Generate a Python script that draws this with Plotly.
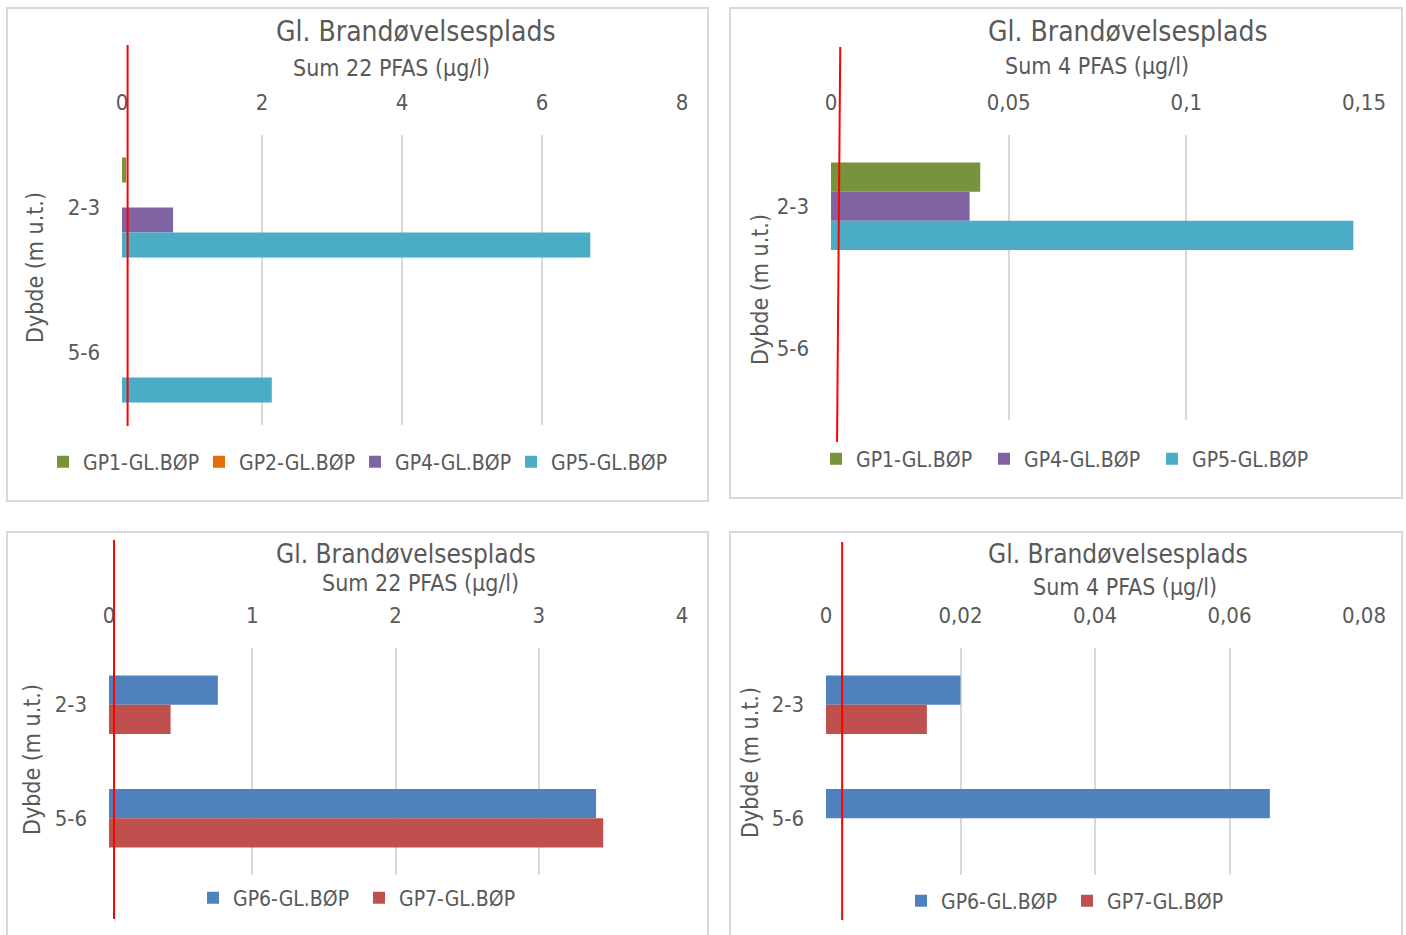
import plotly.graph_objects as go

# ---- data -------------------------------------------------------------
depth = ["2-3", "5-6"]

# Sum 22 PFAS (µg/l), boreholes GP1-GP5
gp1_sum22 = [0.06, None]
gp2_sum22 = [None, None]
gp4_sum22 = [0.73, None]
gp5_sum22 = [6.69, 2.14]

# Sum 4 PFAS (µg/l), boreholes GP1-GP5
gp1_sum4 = [0.042, None]
gp4_sum4 = [0.039, None]
gp5_sum4 = [0.147, None]

# Sum 22 PFAS (µg/l), boreholes GP6-GP7
gp6_sum22 = [0.76, 3.40]
gp7_sum22 = [0.43, 3.45]

# Sum 4 PFAS (µg/l), boreholes GP6-GP7
gp6_sum4 = [0.020, 0.066]
gp7_sum4 = [0.015, None]

# red reference line (x at top, x at bottom) per panel
ref_line_1 = [0.08, 0.08]
ref_line_2 = [0.0026, 0.0017]
ref_line_3 = [0.035, 0.035]
ref_line_4 = [0.0024, 0.0024]

title = "Gl. Brandøvelsesplads"
sub22 = "Sum 22 PFAS (µg/l)"
sub4 = "Sum 4 PFAS (µg/l)"
ytitle = "Dybde (m u.t.)"

# ---- style ------------------------------------------------------------
W, H = 1406, 935
FONT = "Liberation Sans Narrow, DejaVu Sans Condensed, Roboto, sans-serif"
TXT = "#595959"
GRID = "#d9d9d9"
C_GP1 = "#77933c"
C_GP2 = "#e46c0a"
C_GP4 = "#8064a2"
C_GP5 = "#4bacc6"
C_GP6 = "#4f81bd"
C_GP7 = "#c0504d"


def px(x):
    return x / W


def py(y):
    return 1 - y / H


fig = go.Figure()

panels = [
    dict(ax="", leg="legend", xd=(122, 682), yd=(135, 425), rng=[0, 8], dt=2,
         band=145, bar=25,
         series=[("GP1-GL.BØP", gp1_sum22, C_GP1), ("GP2-GL.BØP", gp2_sum22, C_GP2),
                 ("GP4-GL.BØP", gp4_sum22, C_GP4), ("GP5-GL.BØP", gp5_sum22, C_GP5)],
         ref=ref_line_1, ref_y=(45, 426),
         title=(title, 416, 32, 28), sub=(sub22, 391, 68, 23), ylab=(35, 268),
         leg_pos=(43, 462), entry=111),
    dict(ax="2", leg="legend2", xd=(831, 1364), yd=(135, 420), rng=[0, 0.15], dt=0.05,
         band=144, bar=29.5,
         series=[("GP1-GL.BØP", gp1_sum4, C_GP1), ("GP4-GL.BØP", gp4_sum4, C_GP4),
                 ("GP5-GL.BØP", gp5_sum4, C_GP5)],
         ref=ref_line_2, ref_y=(47, 442),
         title=(title, 1128, 32, 28), sub=(sub4, 1097, 66, 23), ylab=(760, 290),
         leg_pos=(816, 459), entry=123),
    dict(ax="3", leg="legend3", xd=(109, 682), yd=(648, 875), rng=[0, 4], dt=1,
         band=114, bar=29.5,
         series=[("GP6-GL.BØP", gp6_sum22, C_GP6), ("GP7-GL.BØP", gp7_sum22, C_GP7)],
         ref=ref_line_3, ref_y=(540, 919),
         title=(title, 406, 554, 26), sub=(sub22, 420, 583, 23), ylab=(32, 760),
         leg_pos=(193, 898), entry=121),
    dict(ax="4", leg="legend4", xd=(826, 1364), yd=(648, 875), rng=[0, 0.08], dt=0.02,
         band=114, bar=29.5,
         series=[("GP6-GL.BØP", gp6_sum4, C_GP6), ("GP7-GL.BØP", gp7_sum4, C_GP7)],
         ref=ref_line_4, ref_y=(542, 920),
         title=(title, 1118, 554, 26), sub=(sub4, 1125, 587, 23), ylab=(750, 762),
         leg_pos=(901, 901), entry=121),
]

annotations = []
shapes = []

for p in panels:
    xa = "x" + p["ax"]
    ya = "y" + p["ax"]
    n = len(p["series"])
    w = p["bar"] / p["band"]
    for i, (name, vals, col) in enumerate(p["series"]):
        fig.add_trace(go.Bar(
            y=depth, x=vals, name=name, orientation="h",
            marker=dict(color=col, line=dict(width=0)),
            width=w, offset=(i - n / 2) * w,
            xaxis=xa, yaxis=ya, legend=p["leg"],
            hoverinfo="x+y+name",
        ))

    xkey = "xaxis" + p["ax"]
    ykey = "yaxis" + p["ax"]
    fig.layout[xkey] = dict(
        domain=[px(p["xd"][0]), px(p["xd"][1])], range=p["rng"], dtick=p["dt"],
        tick0=0, side="top", anchor=ya, showgrid=True, gridcolor=GRID, gridwidth=1.5,
        zeroline=False, showline=False, ticks="", ticklabelstandoff=20,
        automargin=False,
        tickfont=dict(family=FONT, size=22, color=TXT), fixedrange=True,
    )
    fig.layout[ykey] = dict(
        domain=[py(p["yd"][1]), py(p["yd"][0])], type="category",
        categoryorder="array", categoryarray=depth, range=[1.5, -0.5],
        anchor=xa, showgrid=False, zeroline=False, showline=False, ticks="",
        automargin=False,
        ticklabelstandoff=21, tickfont=dict(family=FONT, size=22, color=TXT),
        fixedrange=True,
    )

    fig.layout[p["leg"]] = dict(
        orientation="h", x=px(p["leg_pos"][0]), y=py(p["leg_pos"][1]),
        xanchor="left", yanchor="middle", entrywidth=p["entry"],
        entrywidthmode="pixels", bgcolor="rgba(0,0,0,0)",
        font=dict(family=FONT, size=21, color=TXT), traceorder="normal",
    )

    t, tx, ty, ts = p["title"]
    annotations.append(dict(text=t, x=px(tx), y=py(ty), xref="paper", yref="paper",
                            showarrow=False, xanchor="center", yanchor="middle",
                            font=dict(family=FONT, size=ts, color=TXT)))
    s, sx, sy, ss = p["sub"]
    annotations.append(dict(text=s, x=px(sx), y=py(sy), xref="paper", yref="paper",
                            showarrow=False, xanchor="center", yanchor="middle",
                            font=dict(family=FONT, size=ss, color=TXT)))
    annotations.append(dict(text=ytitle, x=px(p["ylab"][0]), y=py(p["ylab"][1]),
                            xref="paper", yref="paper", showarrow=False, textangle=-90,
                            xanchor="center", yanchor="middle",
                            font=dict(family=FONT, size=23, color=TXT)))

    shapes.append(dict(type="line", xref=xa, yref="paper",
                       x0=p["ref"][0], x1=p["ref"][1],
                       y0=py(p["ref_y"][0]), y1=py(p["ref_y"][1]),
                       line=dict(color="#ff0000", width=2)))

# chart frames
for x0, y0, x1, y1 in [(7, 8, 708, 501), (730, 8, 1402, 498),
                       (7, 532, 708, 960), (730, 532, 1402, 960)]:
    shapes.append(dict(type="rect", xref="paper", yref="paper",
                       x0=px(x0), x1=px(x1), y0=py(y0), y1=py(y1),
                       line=dict(color=GRID, width=2), fillcolor="rgba(0,0,0,0)",
                       layer="below"))

fig.update_layout(
    template="none",
    width=W, height=H, margin=dict(l=0, r=0, t=0, b=0, autoexpand=False),
    autosize=False,
    paper_bgcolor="white", plot_bgcolor="white",
    separators=",.", showlegend=True, barmode="group",
    annotations=annotations, shapes=shapes,
    font=dict(family=FONT, color=TXT),
)

fig.write_html("out.html")
